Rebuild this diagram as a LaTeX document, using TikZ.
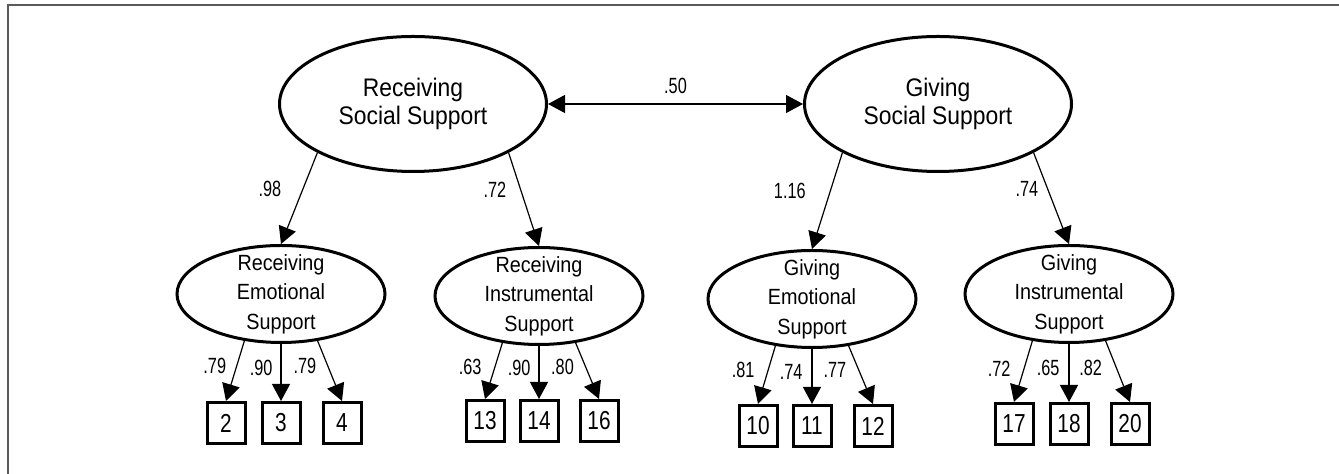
\documentclass[tikz,border=0pt]{standalone}
\usepackage{fontspec}
\setmainfont{Liberation Sans}
\newfontfamily\fuenteelipse{Liberation Sans}[FakeStretch=0.9]
\newfontfamily\fuentenum{Liberation Sans}[FakeStretch=0.8]
\newfontfamily\fuentecoef{Liberation Sans}[FakeStretch=0.74]
\usepackage{xcolor}
\usepackage{tikz}
\usetikzlibrary{arrows.meta,positioning,shapes.geometric}
\definecolor{marco}{RGB}{90,90,90}

\begin{document}
\begin{tikzpicture}[
x=0.5pt,y=-0.5pt,
>={Triangle[length=8.5pt,width=9pt]},
latente/.style={draw,ellipse,line width=1.5pt,inner sep=0pt,minimum width=133.5pt,minimum height=67.5pt,align=center,font=\fuenteelipse\fontsize{12.7pt}{14pt}\selectfont},
factor/.style={draw,ellipse,line width=1.5pt,inner sep=0pt,inner ysep=-7pt,minimum width=104pt,minimum height=48.5pt,align=center,font=\fuenteelipse\fontsize{11pt}{14.8pt}\selectfont},
item/.style={draw,line width=1.5pt,inner sep=0pt,minimum width=19pt,minimum height=20.5pt,font=\fuentenum\fontsize{13pt}{14pt}\selectfont},
arr/.style={->,line width=0.6pt},
lbl/.style={font=\fuentecoef\fontsize{11pt}{12pt}\selectfont,inner sep=1pt}
]
\useasboundingbox (0,0) rectangle (1339,474);
\draw[marco,line width=1pt] (1339,5) -| (8,474);

\node[latente] (rss) at (413,104) {Receiving\\Social Support};
\node[latente,right=127.5pt of rss] (gss) {Giving\\Social Support};

\node[factor,below=35.5pt of rss,xshift=-66pt] (rem) {Receiving\\Emotional\\Support};
\node[factor,below=36.5pt of rss,xshift=63pt] (ris) {Receiving\\Instrumental\\Support};
\node[factor,below=38pt of gss,xshift=-63pt] (gem) {Giving\\Emotional\\Support};
\node[factor,below=35.5pt of gss,xshift=65.5pt] (gis) {Giving\\Instrumental\\Support};

\node[item,below=28.5pt of rem,xshift=-27.5pt] (i2) {2};
\node[item,below=28.5pt of rem] (i3) {3};
\node[item,below=28.5pt of rem,xshift=30.5pt] (i4) {4};
\node[item,below=26.5pt of ris,xshift=-27pt] (i13) {13};
\node[item,below=26.5pt of ris] (i14) {14};
\node[item,below=26.5pt of ris,xshift=30pt] (i16) {16};
\node[item,below=27.5pt of gem,xshift=-27pt] (i10) {10};
\node[item,below=27.5pt of gem] (i11) {11};
\node[item,below=27.5pt of gem,xshift=30.5pt] (i12) {12};
\node[item,below=29pt of gis,xshift=-27.5pt] (i17) {17};
\node[item,below=29pt of gis] (i18) {18};
\node[item,below=29pt of gis,xshift=30.5pt] (i20) {20};

\draw[arr,<->] (rss.east) -- (gss.west) node[lbl,midway,above=4pt] {.50};

\draw[arr] (rss.207) -- (rem.north) node[lbl,pos=0.4,left=9.5pt] {.98};
\draw[arr] (rss.333) -- (ris.north) node[lbl,pos=0.4,left=6pt] {.72};
\draw[arr] (gss.207) -- (gem.north) node[lbl,pos=0.4,left=11pt] {1.16};
\draw[arr] (gss.333) -- (gis.north) node[lbl,pos=0.4,left=3.5pt] {.74};

\draw[arr] (rem.232) -- (i2.north) node[lbl,pos=0.42,left=4pt] {.79};
\draw[arr] (rem.south) -- (i3.north) node[lbl,pos=0.42,left=3pt] {.90};
\draw[arr] (rem.308) -- (i4.north) node[lbl,pos=0.42,left=4.5pt] {.79};
\draw[arr] (ris.232) -- (i13.north) node[lbl,pos=0.42,left=5.5pt] {.63};
\draw[arr] (ris.south) -- (i14.north) node[lbl,pos=0.42,left=3pt] {.90};
\draw[arr] (ris.308) -- (i16.north) node[lbl,pos=0.42,left=4.5pt] {.80};
\draw[arr] (gem.232) -- (i10.north) node[lbl,pos=0.42,left=5.5pt] {.81};
\draw[arr] (gem.south) -- (i11.north) node[lbl,pos=0.42,left=3.5pt] {.74};
\draw[arr] (gem.308) -- (i12.north) node[lbl,pos=0.42,left=5pt] {.77};
\draw[arr] (gis.232) -- (i17.north) node[lbl,pos=0.45,left=5.5pt] {.72};
\draw[arr] (gis.south) -- (i18.north) node[lbl,pos=0.42,left=3.5pt] {.65};
\draw[arr] (gis.308) -- (i20.north) node[lbl,pos=0.45,left=6pt] {.82};
\end{tikzpicture}
\end{document}
